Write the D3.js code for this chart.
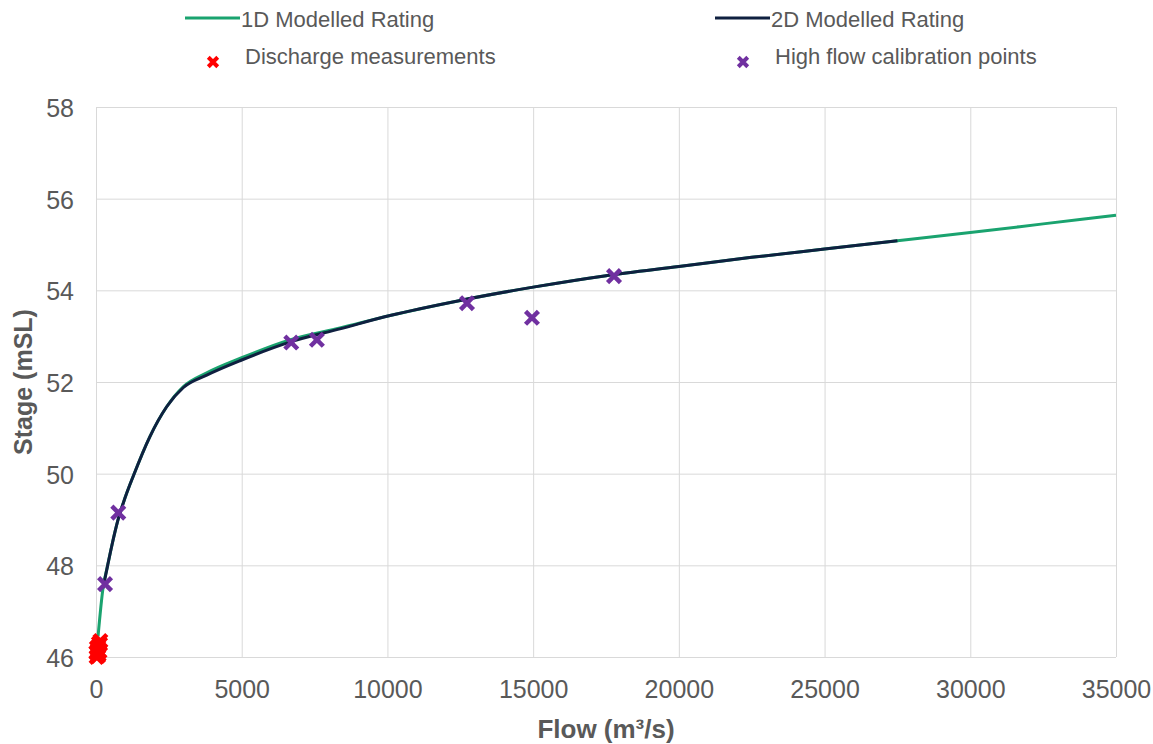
<!DOCTYPE html>
<html>
<head>
<meta charset="utf-8">
<script src="https://cdn.jsdelivr.net/npm/d3@7"></script>
<style>
    body { margin: 0; background: #fff; }
    svg { font-family: "Liberation Sans", Arial, sans-serif; }
</style>
</head>
<body>
<svg id="chart" width="1153" height="744"></svg>
<script>
// 1D modelled rating curve
const flow1D = [70, 240, 400, 550, 750, 1000, 1280, 1850, 2425, 3000, 3800, 5000, 6650, 8370, 10090, 12500, 15000, 17500, 20000, 22500, 25000, 27500, 30000, 32500, 35000];
const stage1D = [46.45, 47.5, 48.0, 48.45, 48.98, 49.48, 49.95, 50.81, 51.46, 51.9, 52.2, 52.53, 52.92, 53.18, 53.45, 53.78, 54.07, 54.32, 54.52, 54.72, 54.9, 55.08, 55.26, 55.45, 55.64];

// 2D modelled rating curve
const flow2D = [240, 400, 550, 750, 1000, 1280, 1850, 2425, 3000, 3800, 5000, 6650, 8370, 10090, 12500, 15000, 17500, 20000, 22500, 25000, 27500];
const stage2D = [47.5, 48.0, 48.45, 48.98, 49.48, 49.95, 50.81, 51.46, 51.88, 52.15, 52.48, 52.87, 53.16, 53.45, 53.78, 54.07, 54.32, 54.52, 54.72, 54.9, 55.08];

// discharge measurements
const measFlow = [20, 40, 60, 80, 100, 120, 140, 30, 90, 150, 10, 70];
const measStage = [46.0, 46.08, 46.15, 46.22, 46.3, 46.12, 46.28, 46.2, 46.05, 46.35, 46.1, 46.02];

// high flow calibration points
const calFlow = [310, 765, 6700, 7580, 12730, 14960, 17775];
const calStage = [47.59, 49.15, 52.86, 52.92, 53.72, 53.4, 54.31];

const xTicks = [0, 5000, 10000, 15000, 20000, 25000, 30000, 35000];
const yTicks = [46, 48, 50, 52, 54, 56, 58];

const textColor = '#595959';
const svg = d3.select('#chart');

const x = d3.scaleLinear().domain([0, 35000]).range([96, 1116]);
const y = d3.scaleLinear().domain([46, 58]).range([657, 107]);

// gridlines
const grid = svg.append('g').attr('stroke', '#d9d9d9').attr('stroke-width', 1);
grid.selectAll('.vg').data(xTicks).enter().append('line')
    .attr('x1', d => x(d) + 0.5).attr('x2', d => x(d) + 0.5)
    .attr('y1', y(58)).attr('y2', y(46));
grid.selectAll('.hg').data(yTicks).enter().append('line')
    .attr('x1', x(0)).attr('x2', x(35000))
    .attr('y1', d => y(d) + 0.5).attr('y2', d => y(d) + 0.5);

// axes (labels only, lines are the grid)
const xAxis = svg.append('g')
    .attr('transform', `translate(0,${y(46) + 20})`)
    .call(d3.axisBottom(x).tickValues(xTicks).tickSize(0).tickFormat(d3.format('d')));
xAxis.select('.domain').remove();
xAxis.selectAll('text')
    .attr('fill', textColor)
    .style('font-size', '25px')
    .attr('dy', '0.71em');

const yAxis = svg.append('g')
    .attr('transform', `translate(${x(0) - 22},0)`)
    .call(d3.axisLeft(y).tickValues(yTicks).tickSize(0).tickFormat(d3.format('d')));
yAxis.select('.domain').remove();
yAxis.selectAll('text')
    .attr('fill', textColor)
    .style('font-size', '25px')
    .attr('x', 0)
    .attr('dy', '0.38em');

// axis titles
svg.append('text')
    .attr('x', (x(0) + x(35000)) / 2)
    .attr('y', 738)
    .attr('text-anchor', 'middle')
    .attr('fill', textColor)
    .style('font-size', '26px')
    .style('font-weight', 'bold')
    .text('Flow (m³/s)');

svg.append('text')
    .attr('transform', `translate(32,${(y(46) + y(58)) / 2}) rotate(-90)`)
    .attr('text-anchor', 'middle')
    .attr('fill', textColor)
    .style('font-size', '25px')
    .style('font-weight', 'bold')
    .text('Stage (mSL)');

// rating curves
const line = d3.line()
    .x(d => x(d[0]))
    .y(d => y(d[1]))
    .curve(d3.curveMonotoneX);

svg.append('path')
    .datum(flow1D.map((f, i) => [f, stage1D[i]]))
    .attr('d', line)
    .attr('fill', 'none')
    .attr('stroke', '#1aa36f')
    .attr('stroke-width', 3);

svg.append('path')
    .datum(flow2D.map((f, i) => [f, stage2D[i]]))
    .attr('d', line)
    .attr('fill', 'none')
    .attr('stroke', '#0f2040')
    .attr('stroke-width', 3);

// markers
const xMark = d3.symbol().type(d3.symbolX).size(110);

function drawMarks(flows, stages, color) {
    svg.append('g').selectAll('path')
        .data(flows.map((f, i) => [f, stages[i]]))
        .enter().append('path')
        .attr('d', xMark)
        .attr('transform', d => `translate(${x(d[0])},${y(d[1])})`)
        .attr('fill', 'none')
        .attr('stroke', color)
        .attr('stroke-width', 4.5);
}

drawMarks(measFlow, measStage, '#ff0000');
drawMarks(calFlow, calStage, '#7030a0');

// legend
const legend = svg.append('g').style('font-size', '22px').attr('fill', textColor);

function legendLine(x0, label, color) {
    legend.append('line')
        .attr('x1', x0).attr('x2', x0 + 55)
        .attr('y1', 18).attr('y2', 18)
        .attr('stroke', color).attr('stroke-width', 3);
    legend.append('text').attr('x', x0 + 56).attr('y', 27).text(label);
}

function legendMark(x0, label, color) {
    legend.append('path')
        .attr('d', d3.symbol().type(d3.symbolX).size(60))
        .attr('transform', `translate(${x0},62)`)
        .attr('fill', 'none')
        .attr('stroke', color)
        .attr('stroke-width', 4);
    legend.append('text').attr('x', x0 + 32).attr('y', 64).text(label);
}

legendLine(185, '1D Modelled Rating', '#1aa36f');
legendLine(715, '2D Modelled Rating', '#0f2040');
legendMark(213, 'Discharge measurements', '#ff0000');
legendMark(743, 'High flow calibration points', '#7030a0');
</script>
</body>
</html>
